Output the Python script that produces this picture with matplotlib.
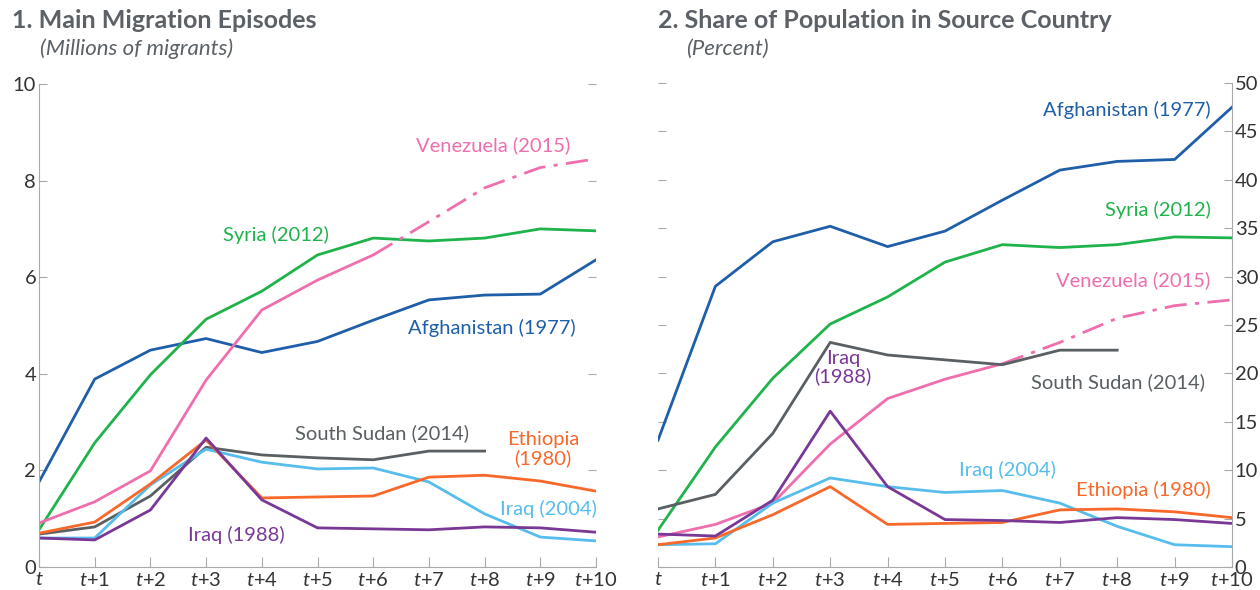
import matplotlib
matplotlib.use("Agg")
import matplotlib.pyplot as plt

plt.rcParams['font.family'] = ['Lato', 'DejaVu Sans']
plt.rcParams['mathtext.fontset'] = 'custom'
plt.rcParams['mathtext.it'] = 'Lato:italic'
plt.rcParams['mathtext.rm'] = 'Lato'

# periods after the start of each episode
periods = list(range(11))
tick_labels = ['$t$'] + ['$t$+%d' % i for i in range(1, 11)]

# panel 1: millions of migrants
mig_afghanistan = [1.76, 3.89, 4.49, 4.73, 4.44, 4.67, 5.11, 5.53, 5.63, 5.65, 6.36]
mig_syria = [0.77, 2.57, 3.98, 5.13, 5.71, 6.46, 6.81, 6.75, 6.81, 7.00, 6.96]
mig_venezuela = [0.91, 1.35, 1.99, 3.87, 5.32, 5.94, 6.46, 7.15, 7.85, 8.27, 8.45]
mig_south_sudan = [0.68, 0.83, 1.47, 2.48, 2.32, 2.26, 2.22, 2.40, 2.40]
mig_ethiopia = [0.70, 0.93, 1.72, 2.63, 1.43, 1.45, 1.47, 1.86, 1.90, 1.78, 1.57]
mig_iraq88 = [0.60, 0.56, 1.18, 2.67, 1.39, 0.81, 0.79, 0.77, 0.83, 0.81, 0.72]
mig_iraq04 = [0.60, 0.60, 1.70, 2.44, 2.17, 2.03, 2.05, 1.76, 1.10, 0.62, 0.54]

# panel 2: percent of source-country population
pct_afghanistan = [13.1, 29.0, 33.6, 35.2, 33.1, 34.7, 37.9, 41.0, 41.9, 42.1, 47.5]
pct_syria = [3.8, 12.4, 19.5, 25.1, 27.9, 31.5, 33.3, 33.0, 33.3, 34.1, 34.0]
pct_venezuela = [3.1, 4.4, 6.6, 12.7, 17.4, 19.4, 21.0, 23.2, 25.7, 27.0, 27.6]
pct_south_sudan = [6.0, 7.5, 13.8, 23.2, 21.9, 21.4, 20.9, 22.4, 22.4]
pct_ethiopia = [2.3, 3.0, 5.4, 8.3, 4.4, 4.5, 4.6, 5.9, 6.0, 5.7, 5.1]
pct_iraq88 = [3.4, 3.2, 6.9, 16.1, 8.3, 4.9, 4.8, 4.6, 5.1, 4.9, 4.5]
pct_iraq04 = [2.3, 2.4, 6.6, 9.2, 8.3, 7.7, 7.9, 6.6, 4.2, 2.3, 2.1]

# Venezuela is projected from t+6 on
proj_start = 6

c_afg = '#1f5ea8'
c_syr = '#1fb34b'
c_ven = '#ef6eae'
c_ssd = '#595f63'
c_eth = '#f7682a'
c_irq88 = '#7a3896'
c_irq04 = '#56bdec'
spine_c = '#a7a9ac'
text_c = '#5b6166'
lw = 2.0

fig = plt.figure(figsize=(12.6, 5.9), dpi=100)
ax1 = fig.add_axes([39/1260, 23/590, 557/1260, 483/590])
ax2 = fig.add_axes([658/1260, 23/590, 574/1260, 484/590])


def draw(ax, afg, syr, ven, ssd, eth, i88, i04):
    ax.plot(periods, afg, color=c_afg, lw=lw)
    ax.plot(periods, syr, color=c_syr, lw=lw)
    ax.plot(periods[:proj_start + 1], ven[:proj_start + 1], color=c_ven, lw=lw)
    ax.plot(periods[proj_start:], ven[proj_start:], color=c_ven, lw=lw,
            dashes=(8, 3, 1.5, 3))
    ax.plot(periods[:len(ssd)], ssd, color=c_ssd, lw=lw)
    ax.plot(periods, i04, color=c_irq04, lw=lw)
    ax.plot(periods, eth, color=c_eth, lw=lw)
    ax.plot(periods, i88, color=c_irq88, lw=lw)


def style(ax, ymax, step, label_side):
    ax.set_xlim(0, 10)
    ax.set_ylim(0, ymax)
    ax.set_xticks(periods)
    ax.set_xticklabels(tick_labels, fontsize=14.5, color='#333333')
    ax.set_yticks(range(0, ymax + 1, step))
    for s in ax.spines.values():
        s.set_visible(False)
    ax.spines['bottom'].set_visible(True)
    ax.spines['bottom'].set_color(spine_c)
    ax.spines[label_side].set_visible(True)
    ax.spines[label_side].set_color(spine_c)
    ax.tick_params(axis='x', direction='in', length=7, color=spine_c, pad=3)
    ax.tick_params(axis='y', direction='in', length=6, color=spine_c,
                   labelsize=14.5, labelcolor='#333333', left=True, right=True,
                   labelleft=(label_side == 'left'),
                   labelright=(label_side == 'right'), pad=2)
    ax.patch.set_alpha(0)


draw(ax1, mig_afghanistan, mig_syria, mig_venezuela, mig_south_sudan,
     mig_ethiopia, mig_iraq88, mig_iraq04)
style(ax1, 10, 2, 'left')
draw(ax2, pct_afghanistan, pct_syria, pct_venezuela, pct_south_sudan,
     pct_ethiopia, pct_iraq88, pct_iraq04)
style(ax2, 50, 5, 'right')

fs = 14.5
kw = dict(ha='center', va='center', fontsize=fs, linespacing=1.05)
ax1.text(8.15, 8.74, 'Venezuela (2015)', color=c_ven, **kw)
ax1.text(4.25, 6.87, 'Syria (2012)', color=c_syr, **kw)
ax1.text(8.13, 4.95, 'Afghanistan (1977)', color=c_afg, **kw)
ax1.text(6.16, 2.77, 'South Sudan (2014)', color=c_ssd, **kw)
ax1.text(9.05, 2.44, 'Ethiopia\n(1980)', color=c_eth, **kw)
ax1.text(9.14, 1.20, 'Iraq (2004)', color=c_irq04, **kw)
ax1.text(3.54, 0.66, 'Iraq (1988)', color=c_irq88, **kw)

ax2.text(8.16, 47.2, 'Afghanistan (1977)', color=c_afg, **kw)
ax2.text(8.71, 36.9, 'Syria (2012)', color=c_syr, **kw)
ax2.text(8.28, 29.6, 'Venezuela (2015)', color=c_ven, **kw)
ax2.text(8.01, 19.1, 'South Sudan (2014)', color=c_ssd, **kw)
ax2.text(3.22, 20.6, 'Iraq\n(1988)', color=c_irq88, **kw)
ax2.text(6.08, 10.0, 'Iraq (2004)', color=c_irq04, **kw)
ax2.text(8.45, 7.95, 'Ethiopia (1980)', color=c_eth, **kw)

# panel titles
fig.text(12/1260, 1 - 21/590, '1. Main Migration Episodes', fontsize=18,
         fontweight='bold', color=text_c, va='center')
fig.text(40/1260, 1 - 49/590, '(Millions of migrants)', fontsize=16,
         style='italic', color=text_c, va='center')
fig.text(658/1260, 1 - 21/590, '2. Share of Population in Source Country',
         fontsize=18, fontweight='bold', color=text_c, va='center')
fig.text(686/1260, 1 - 49/590, '(Percent)', fontsize=16,
         style='italic', color=text_c, va='center')

fig.savefig('out.png', dpi=100)
